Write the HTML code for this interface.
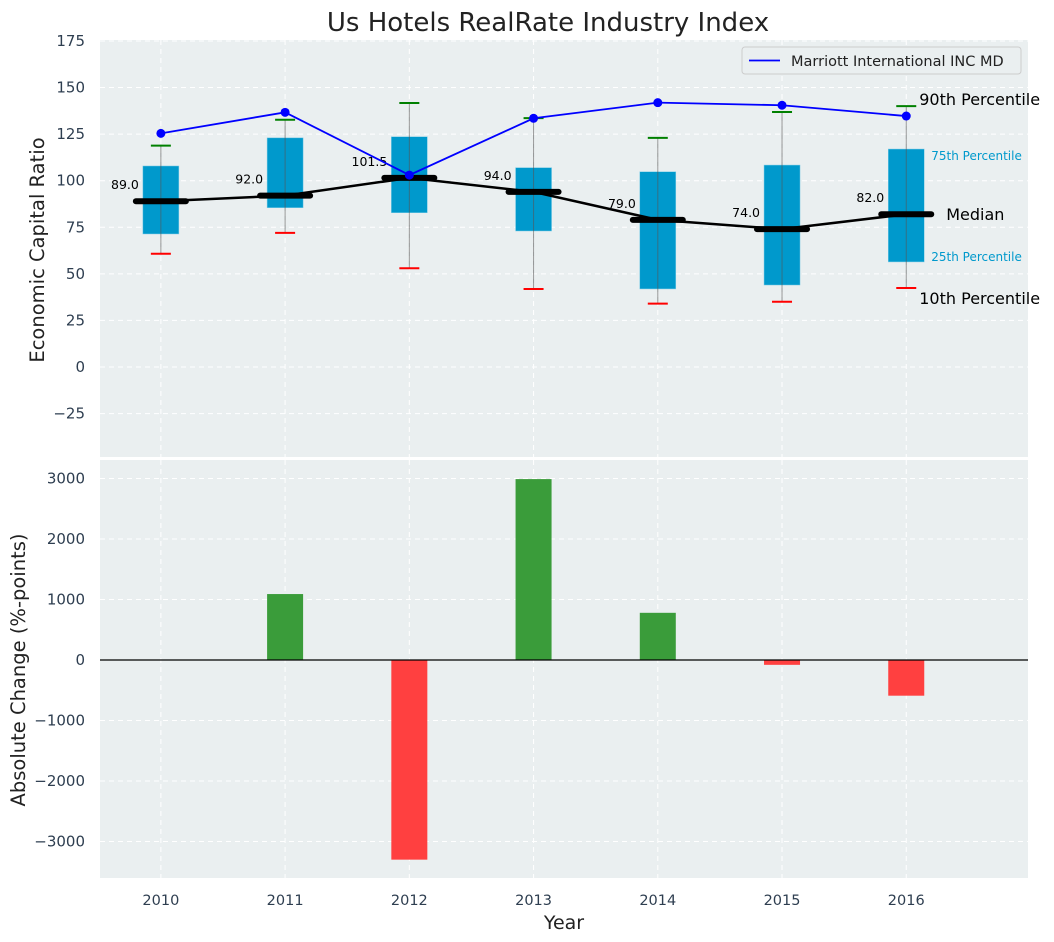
<!DOCTYPE html>
<html><head><meta charset="utf-8"><style>
body{margin:0;background:#fff;}
svg{display:block;font-family:"DejaVu Sans","Liberation Sans",sans-serif;}
</style></head><body>
<svg id="c" width="1054" height="942"></svg>
<script>
const years=[2010,2011,2012,2013,2014,2015,2016];
const p10=[60.8,72,53,41.9,34,35,42.4];
const p25=[71.4,85.5,82.8,73,41.9,44,56.4];
const medians=[89,92,101.5,94,79,74,82];
const p75=[107.9,123,123.6,107,104.8,108.4,117];
const p90=[118.8,132.7,141.7,133.6,123,136.9,140];
const marriott=[125.4,136.7,103,133.5,141.9,140.5,134.7];
const changes=[0,1090,-3300,2990,780,-80,-590];
const topTicks=[-25,0,25,50,75,100,125,150,175];
const botTicks=[-3000,-2000,-1000,0,1000,2000,3000];

const NS="http://www.w3.org/2000/svg";
const svg=document.getElementById('c');
function el(t,a,p){const e=document.createElementNS(NS,t);for(const k in a)e.setAttribute(k,a[k]);(p||svg).appendChild(e);return e;}
const X0=100,X1=1028;
const x=v=>X0+(v-2009.51)/(2016.98-2009.51)*(X1-X0);
const T0=40,T1=457,B0=460,B1=878;
const yT=v=>367-v*1.863;
const yB=v=>660-v*0.0605;

let r=el('rect',{x:X0,y:T0,width:X1-X0,height:T1-T0,fill:'#eaeff0'});

r=el('rect',{x:X0,y:B0,width:X1-X0,height:B1-B0,fill:'#eaeff0'});


years.forEach(yr=>{
  el('line',{x1:x(yr),x2:x(yr),y1:T0,y2:T1,stroke:'#fff','stroke-dasharray':'5,4','stroke-width':1});
  el('line',{x1:x(yr),x2:x(yr),y1:B0,y2:B1,stroke:'#fff','stroke-dasharray':'5,4','stroke-width':1});
  const t=el('text',{x:x(yr),y:905,'text-anchor':'middle','font-size':14.5,fill:'#2e3e50'});t.textContent=yr;
  
});
topTicks.forEach(v=>{
  el('line',{x1:X0,x2:X1,y1:yT(v),y2:yT(v),stroke:'#fff','stroke-dasharray':'5,4'});
  const t=el('text',{x:85,y:yT(v)+5,'text-anchor':'end','font-size':15,fill:'#2e3e50'});t.textContent=v<0?'−'+(-v):v;
  
});
botTicks.forEach(v=>{
  el('line',{x1:X0,x2:X1,y1:yB(v),y2:yB(v),stroke:'#fff','stroke-dasharray':'5,4'});
  const t=el('text',{x:85,y:yB(v)+5,'text-anchor':'end','font-size':15,fill:'#2e3e50'});t.textContent=v<0?'−'+(-v):v;
  
});

years.forEach((yr,i)=>{
  const cx=x(yr);
  const b=el('rect',{x:cx-18,y:yT(p75[i]),width:36,height:yT(p25[i])-yT(p75[i]),fill:'#0099cc',stroke:'#7fcce6','stroke-width':0.5});
  
  el('line',{x1:cx,x2:cx,y1:yT(p90[i]),y2:yT(p10[i]),stroke:'#555','stroke-opacity':0.6,'stroke-width':1});
  el('line',{x1:cx-10,x2:cx+10,y1:yT(p90[i]),y2:yT(p90[i]),stroke:'green','stroke-width':2});
  el('line',{x1:cx-10,x2:cx+10,y1:yT(p10[i]),y2:yT(p10[i]),stroke:'red','stroke-width':2});
});
el('polyline',{points:years.map((yr,i)=>x(yr)+','+yT(medians[i])).join(' '),fill:'none',stroke:'#000','stroke-width':2.5});
years.forEach((yr,i)=>{
  const cx=x(yr);
  const m=el('line',{x1:cx-25,x2:cx+25,y1:yT(medians[i]),y2:yT(medians[i]),stroke:'#000','stroke-width':6,'stroke-linecap':'round'});
  
  const t=el('text',{x:cx-22,y:yT(medians[i])-12,'text-anchor':'end','font-size':12.5,fill:'#000'});t.textContent=medians[i].toFixed(1);
  
});
el('polyline',{points:years.map((yr,i)=>x(yr)+','+yT(marriott[i])).join(' '),fill:'none',stroke:'blue','stroke-width':1.8});
years.forEach((yr,i)=>{
  const c=el('circle',{cx:x(yr),cy:yT(marriott[i]),r:4.5,fill:'blue'});
  
});
const L=years.length-1, lx=x(years[L]);
[['90th Percentile',lx+13,yT(p90[L])-1,16,'#000'],['75th Percentile',lx+25,yT(p75[L])+11,12,'#0099cc'],
 ['Median',lx+40,yT(medians[L])+6,16,'#000'],['25th Percentile',lx+25,yT(p25[L])-1,12,'#0099cc'],
 ['10th Percentile',lx+13,yT(p10[L])+16,16,'#000']].forEach(a=>{
  const t=el('text',{x:a[1],y:a[2],'font-size':a[3],fill:a[4]});t.textContent=a[0];
  
});
const lg=el('g',{});

el('rect',{x:742,y:47,width:279,height:27,fill:'#eaeff0',stroke:'#ccc',rx:3},lg);
el('line',{x1:749,x2:780,y1:60.5,y2:60.5,stroke:'blue','stroke-width':1.8},lg);
let lt=el('text',{x:791,y:66,'font-size':14.5,fill:'#222'},lg);lt.textContent='Marriott International INC MD';

years.forEach((yr,i)=>{
  const v=changes[i]; if(v===0)return;
  const y1=yB(Math.max(v,0)),y2=yB(Math.min(v,0));
  const b=el('rect',{x:x(yr)-18,y:y1,width:36,height:y2-y1,fill:v>0?'#3a9c3a':'#ff4040'});
  
});
el('line',{x1:X0,x2:X1,y1:yB(0),y2:yB(0),stroke:'#000','stroke-width':1.2});

let t=el('text',{x:548,y:31,'text-anchor':'middle','font-size':26,fill:'#222'});t.textContent='Us Hotels RealRate Industry Index';

t=el('text',{x:564,y:929,'text-anchor':'middle','font-size':19,fill:'#222'});t.textContent='Year';

t=el('text',{x:0,y:0,'text-anchor':'middle','font-size':19.5,fill:'#222',transform:'translate(44,250) rotate(-90)'});t.textContent='Economic Capital Ratio';

t=el('text',{x:0,y:0,'text-anchor':'middle','font-size':19.5,fill:'#222',transform:'translate(25,670) rotate(-90)'});t.textContent='Absolute Change (%-points)';

</script>
</body></html>
